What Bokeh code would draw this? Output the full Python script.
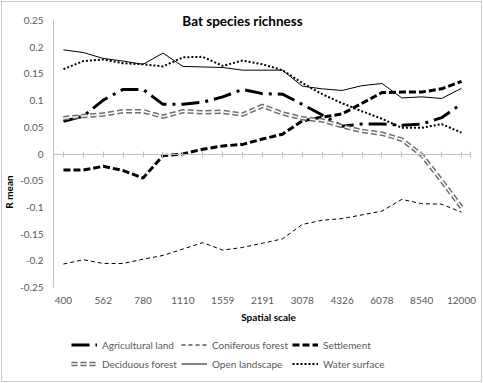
from bokeh.plotting import figure
from bokeh.models import Range1d, FixedTicker, Label, Legend, LegendItem, LinearAxis
from bokeh.embed import file_html
from bokeh.resources import INLINE

# ---- data -------------------------------------------------------------
scale_labels = ["400", "562", "780", "1110", "1559", "2191", "3078",
                "4326", "6078", "8540", "12000"]
n_points = 21

agricultural = [0.061, 0.071, 0.101, 0.121, 0.121, 0.093, 0.093, 0.097, 0.107, 0.121, 0.113,
                0.112, 0.093, 0.073, 0.052, 0.056, 0.056, 0.054, 0.056, 0.068, 0.094]
coniferous = [-0.206, -0.198, -0.205, -0.205, -0.197, -0.190, -0.178, -0.166, -0.180, -0.175, -0.167,
              -0.159, -0.132, -0.124, -0.121, -0.114, -0.107, -0.085, -0.093, -0.094, -0.109]
settlement = [-0.030, -0.030, -0.023, -0.031, -0.045, -0.003, 0.000, 0.009, 0.015, 0.018, 0.028,
              0.037, 0.062, 0.069, 0.075, 0.095, 0.115, 0.116, 0.116, 0.122, 0.136]
deciduous = [0.067, 0.071, 0.074, 0.080, 0.080, 0.070, 0.080, 0.078, 0.079, 0.074, 0.090,
             0.076, 0.067, 0.063, 0.052, 0.043, 0.038, 0.027, -0.002, -0.050, -0.100]
open_landscape = [0.195, 0.190, 0.179, 0.174, 0.168, 0.189, 0.164, 0.163, 0.162, 0.157, 0.157,
                  0.157, 0.127, 0.122, 0.119, 0.128, 0.132, 0.105, 0.107, 0.104, 0.123]
water_surface = [0.159, 0.174, 0.177, 0.170, 0.168, 0.164, 0.181, 0.182, 0.165, 0.175, 0.168,
                 0.157, 0.133, 0.112, 0.095, 0.080, 0.066, 0.049, 0.049, 0.056, 0.040]

y_ticks = [-0.25, -0.2, -0.15, -0.1, -0.05, 0, 0.05, 0.1, 0.15, 0.2, 0.25]
y_labels = ["-0.25", "-0.2", "-0.15", "-0.1", "-0.05", "0", "0.05", "0.1", "0.15", "0.2", "0.25"]

FONT = "Lato"
AXIS_GRAY = "#bfbfbf"
TEXT_GRAY = "#595959"

idx = list(range(n_points))

# frame covers full height; value axis -0.25..0.25 occupies px 20..287
PX = 0.5 / 267.0
XPX = 1 / 19.95
p = figure(width=483, height=383, output_backend="svg", toolbar_location=None,
           x_axis_location=None,
           x_range=Range1d(-0.5, -0.5 + 431 * XPX),
           y_range=Range1d(-0.25 - 96 * PX, 0.25 + 20 * PX),
           min_border_left=52, min_border_right=0, min_border_top=0, min_border_bottom=0)
p.styles = {"outline": "1px solid #c8c8c8", "outline-offset": "-2px",
            "background-color": "white"}
p.border_fill_alpha = 0
p.background_fill_alpha = 0
p.grid.visible = False
p.outline_line_color = None

# value axis
ya = p.yaxis[0]
ya.ticker = FixedTicker(ticks=y_ticks)
ya.major_label_overrides = {t: l for t, l in zip(y_ticks, y_labels)}
ya.bounds = (-0.25, 0.25)
ya.axis_line_color = AXIS_GRAY
ya.major_tick_line_color = None
ya.minor_tick_line_color = None
ya.major_tick_in = 0
ya.major_tick_out = 0
ya.minor_tick_in = 0
ya.minor_tick_out = 0
ya.major_label_standoff = 10
ya.major_label_text_font = FONT
ya.major_label_text_font_size = "10px"
ya.major_label_text_color = TEXT_GRAY
ya.axis_label = "R mean"
ya.axis_label_text_font = FONT
ya.axis_label_text_font_size = "10px"
ya.axis_label_text_font_style = "bold"
ya.axis_label_text_color = "#000000"
ya.axis_label_standoff = 2

# category labels at the bottom of the value range
xa = LinearAxis(fixed_location=-0.25)
xa.ticker = FixedTicker(ticks=idx[::2])
xa.major_label_overrides = {i: lab for i, lab in zip(idx[::2], scale_labels)}
xa.axis_line_color = None
xa.major_tick_line_color = None
xa.minor_tick_line_color = None
xa.major_tick_in = 0
xa.major_tick_out = 0
xa.minor_tick_in = 0
xa.minor_tick_out = 0
xa.major_label_standoff = 9
xa.major_label_text_font = FONT
xa.major_label_text_font_size = "10px"
xa.major_label_text_color = TEXT_GRAY
xa.axis_label = "Spatial scale"
xa.axis_label_text_font = FONT
xa.axis_label_text_font_size = "10px"
xa.axis_label_text_font_style = "bold"
xa.axis_label_text_color = "#000000"
xa.axis_label_standoff = 4
p.add_layout(xa, "below")

# category axis line crossing at zero, with crossing tick marks
za = LinearAxis(fixed_location=0, bounds=(-0.5, 20.45))
za.ticker = FixedTicker(ticks=idx + [20.45])
za.axis_line_color = AXIS_GRAY
za.major_tick_line_color = AXIS_GRAY
za.major_tick_in = 3
za.major_tick_out = 3
za.minor_tick_line_color = None
za.major_label_text_alpha = 0
za.major_label_text_font_size = "1px"
p.add_layout(za, "below")

# series
r_agri = p.line(idx, agricultural, line_color="black", line_width=3, line_dash="18 6 3 6")
r_conif = p.line(idx, coniferous, line_color="black", line_width=1, line_dash="4 3")
r_settle = p.line(idx, settlement, line_color="black", line_width=3, line_dash="7 3")
r_dec_o = p.line(idx, deciduous, line_color="#6e6e6e", line_width=4.5, line_dash="6 3")
r_dec_i = p.line(idx, deciduous, line_color="white", line_width=1.5, line_dash="6 3")
r_open = p.line(idx, open_landscape, line_color="black", line_width=1)
r_water = p.line(idx, water_surface, line_color="black", line_width=2, line_dash="2 2")

legend = Legend(items=[
    LegendItem(label="Agricultural land", renderers=[r_agri]),
    LegendItem(label="Coniferous forest", renderers=[r_conif]),
    LegendItem(label="Settlement", renderers=[r_settle]),
    LegendItem(label="Deciduous forest", renderers=[r_dec_o, r_dec_i]),
    LegendItem(label="Open landscape", renderers=[r_open]),
    LegendItem(label="Water surface", renderers=[r_water]),
], orientation="horizontal", ncols=3, location=(18, 12),
    border_line_color=None, background_fill_alpha=0,
    label_text_font=FONT, label_text_font_size="10px", label_text_color=TEXT_GRAY,
    glyph_width=26, glyph_height=15, label_height=15, label_standoff=5,
    spacing=4, padding=4, margin=0)
p.add_layout(legend, "center")

p.add_layout(Label(x=189, y=363, x_units="screen", y_units="screen",
                   text="Bat species richness", text_align="center", text_baseline="middle",
                   text_font=FONT, text_font_size="13.5px", text_font_style="bold",
                   text_color="black"))

open("out.html", "w").write(file_html(p, INLINE))
